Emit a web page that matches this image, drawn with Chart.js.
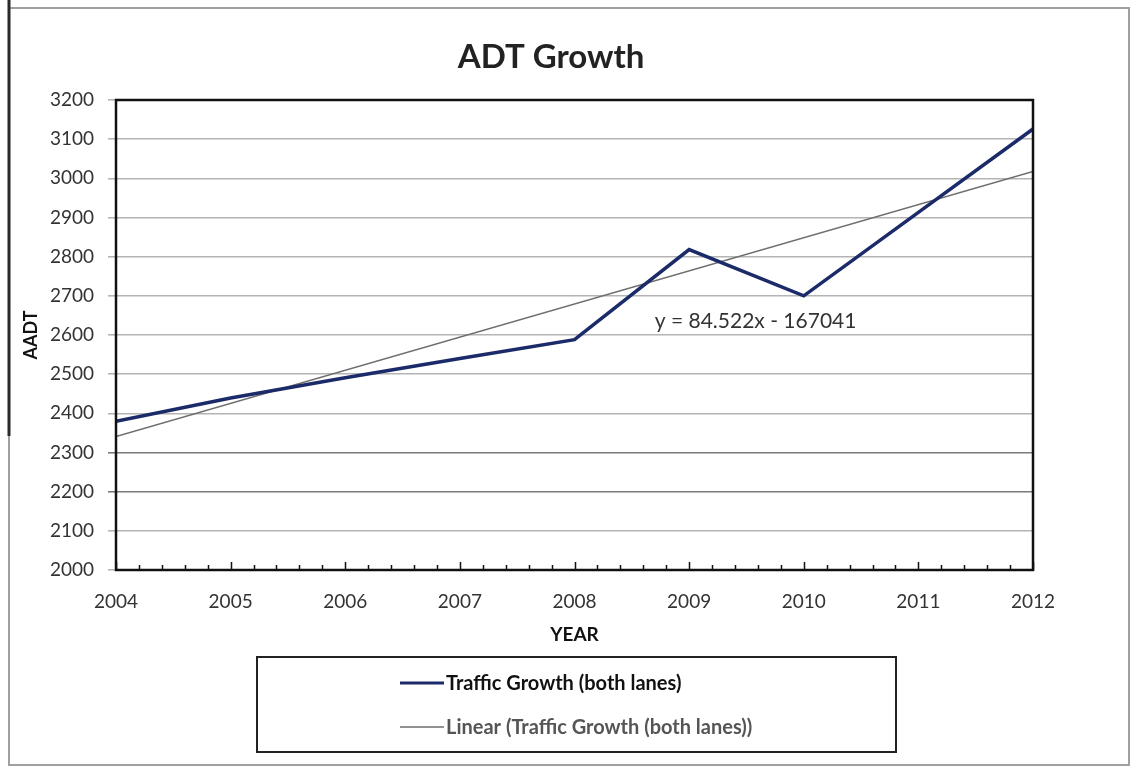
<!DOCTYPE html>
<html>
<head>
<meta charset="utf-8">
<title>ADT Growth</title>
<script src="https://cdn.jsdelivr.net/npm/chart.js@4"></script>
<style>
    html, body { margin: 0; padding: 0; background: #fff; }
    #wrapper { width: 1133px; height: 769px; position: relative; }
</style>
</head>
<body>
<div id="wrapper"><canvas id="graph" width="1133" height="769"></canvas></div>
<script>
const years = [2004, 2005, 2006, 2007, 2008, 2009, 2010, 2011, 2012];
const traffic = [2380, 2439, 2491, 2540, 2588, 2818, 2700, 2913, 3126];

/* trend line from the fitted equation */
const trend_slope = 84.522;
const trend_intercept = -167041;
const trend_label = "y = 84.522x - 167041";
const trend_label_at = [2008.7, 2634];

const y_ticks = [2000, 2100, 2200, 2300, 2400, 2500, 2600, 2700, 2800, 2900, 3000, 3100, 3200];

const label_traffic = "Traffic Growth (both lanes)";
const label_linear = "Linear (Traffic Growth (both lanes))";

const FONT = "Lato, 'Open Sans', sans-serif";
const NAVY = "#1b2a68";
const TREND_GRAY = "#6e6e6e";

const traffic_points = [];
for (let i = 0; i < years.length; i++) {
    traffic_points.push({ x: years[i], y: traffic[i] });
}
const first_year = years[0];
const last_year = years[years.length - 1];
const trend_points = [
    { x: first_year, y: trend_slope * first_year + trend_intercept },
    { x: last_year, y: trend_slope * last_year + trend_intercept },
];

/* frame, title, plot border, minor ticks, equation and legend box */
const decorations = {
    id: "decorations",
    beforeDraw(chart) {
        const c = chart.ctx;
        c.save();
        c.fillStyle = "#fff";
        c.fillRect(0, 0, chart.width, chart.height);
        c.strokeStyle = "#a0a0a0";
        c.lineWidth = 2;
        c.strokeRect(9, 8, 1120, 757);
        c.strokeStyle = "#2a2a2a";
        c.lineWidth = 3;
        c.beginPath();
        c.moveTo(9, 0);
        c.lineTo(9, 436);
        c.stroke();
        c.restore();
    },
    afterDatasetsDraw(chart) {
        const c = chart.ctx;
        const a = chart.chartArea;
        const xs = chart.scales.x;
        const ys = chart.scales.y;
        c.save();

        // plot border
        c.strokeStyle = "#111";
        c.lineWidth = 2.5;
        c.strokeRect(a.left, a.top, a.right - a.left, a.bottom - a.top);

        // inward tick marks on the year axis, five per year
        c.lineWidth = 1.5;
        c.beginPath();
        for (let i = 0; i <= (last_year - first_year) * 5; i++) {
            const px = Math.round(xs.getPixelForValue(first_year + i / 5)) + 0.5;
            const len = i % 5 === 0 ? 8 : 5;
            c.moveTo(px, a.bottom);
            c.lineTo(px, a.bottom - len);
        }
        c.stroke();

        // trend equation
        c.fillStyle = "#333";
        c.font = "21px " + FONT;
        c.textBaseline = "middle";
        c.textAlign = "left";
        c.fillText(
            trend_label,
            xs.getPixelForValue(trend_label_at[0]),
            ys.getPixelForValue(trend_label_at[1])
        );

        // chart title
        c.fillStyle = "#222";
        c.font = "bold 33px " + FONT;
        c.textAlign = "center";
        c.fillText("ADT Growth", 551, 57);

        // legend
        c.strokeStyle = "#222";
        c.lineWidth = 2;
        c.strokeRect(257, 657, 639, 95);
        c.strokeStyle = NAVY;
        c.lineWidth = 3;
        c.beginPath();
        c.moveTo(400, 683);
        c.lineTo(444, 683);
        c.stroke();
        c.strokeStyle = TREND_GRAY;
        c.lineWidth = 1.5;
        c.beginPath();
        c.moveTo(400, 727);
        c.lineTo(444, 727);
        c.stroke();
        c.font = "bold 20px " + FONT;
        c.textAlign = "left";
        c.fillStyle = "#111";
        c.fillText(label_traffic, 446, 684);
        c.fillStyle = "#555";
        c.fillText(label_linear, 446, 728);

        c.restore();
    },
};

const ctx = document.getElementById("graph");
const graph = new Chart(ctx, {
    type: "line",
    data: {
        datasets: [
            {
                label: label_traffic,
                data: traffic_points,
                borderColor: NAVY,
                borderWidth: 3.5,
                pointRadius: 0,
                tension: 0,
                fill: false,
            },
            {
                label: label_linear,
                data: trend_points,
                borderColor: TREND_GRAY,
                borderWidth: 1.5,
                pointRadius: 0,
                fill: false,
            },
        ],
    },
    options: {
        responsive: false,
        animation: false,
        devicePixelRatio: 1,
        layout: { padding: { top: 100, right: 100, bottom: 115, left: 0 } },
        plugins: {
            legend: { display: false },
            title: { display: false },
            tooltip: { enabled: false },
        },
        scales: {
            x: {
                type: "linear",
                min: first_year,
                max: last_year,
                afterFit: (scale) => { scale.height = 84; },
                ticks: {
                    stepSize: 1,
                    padding: 20,
                    color: "#333",
                    font: { family: FONT, size: 19 },
                    callback: (v) => String(v),
                },
                grid: { display: false, drawTicks: false },
                border: { display: false },
                title: {
                    display: true,
                    text: "YEAR",
                    color: "#111",
                    font: { family: FONT, size: 19, weight: "bold" },
                    padding: { top: 0, bottom: 8 },
                },
            },
            y: {
                min: 2000,
                max: 3200,
                afterFit: (scale) => { scale.width = 116; },
                afterBuildTicks: (scale) => {
                    scale.ticks = y_ticks.map((v) => ({ value: v }));
                },
                ticks: {
                    padding: 14,
                    color: "#333",
                    font: { family: FONT, size: 19 },
                    callback: (v) => String(v),
                },
                grid: {
                    color: (c) =>
                        c.tick && (c.tick.value === 2200 || c.tick.value === 2300)
                            ? "#7a7a7a"
                            : "#b4b4b4",
                    lineWidth: 1.6,
                    tickLength: 8,
                },
                border: { display: false },
                title: {
                    display: true,
                    text: "AADT",
                    color: "#111",
                    font: { family: FONT, size: 18, weight: "bold" },
                    padding: { top: 20, bottom: 0 },
                },
            },
        },
    },
    plugins: [decorations],
});
</script>
</body>
</html>
